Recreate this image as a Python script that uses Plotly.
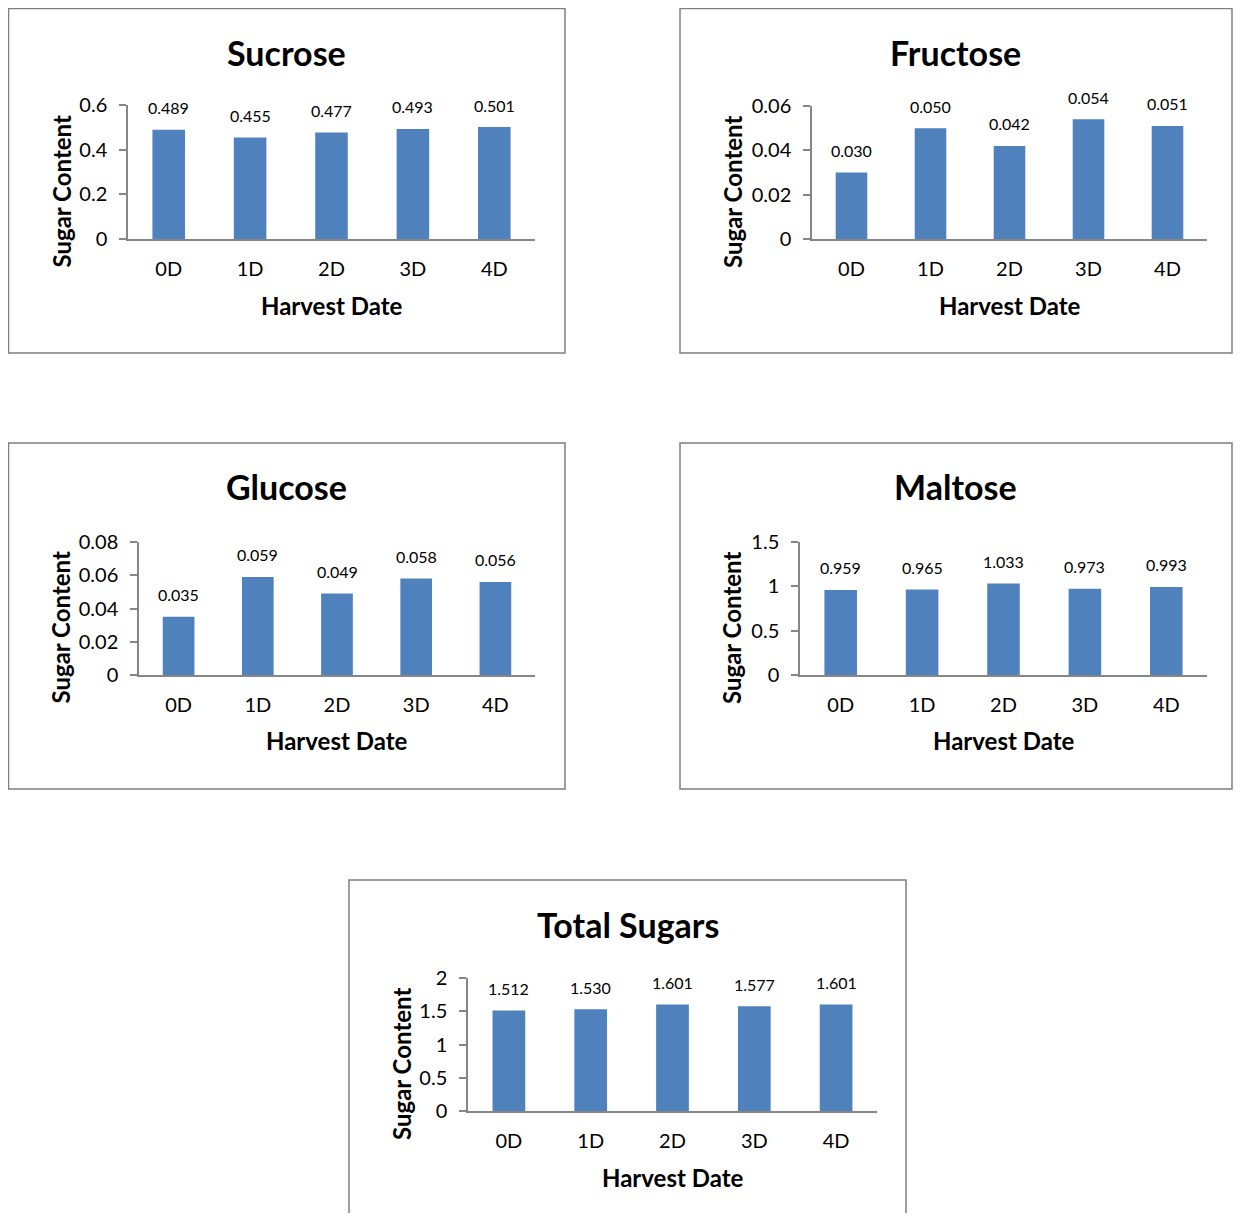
import plotly.graph_objects as go

W, H = 1225, 1205
OFFX, OFFY = 8, 8  # page offset of the plot div inside the browser (body margin)

categories = ["0D", "1D", "2D", "3D", "4D"]

sucrose = [0.489, 0.455, 0.477, 0.493, 0.501]
fructose = [0.030, 0.050, 0.042, 0.054, 0.051]
glucose = [0.035, 0.059, 0.049, 0.058, 0.056]
maltose = [0.959, 0.965, 1.033, 0.973, 0.993]
total = [1.512, 1.530, 1.601, 1.577, 1.601]

titles = ["Sucrose", "Fructose", "Glucose", "Maltose", "Total Sugars"]
series = [sucrose, fructose, glucose, maltose, total]
y_ranges = [[0, 0.6], [0, 0.06], [0, 0.08], [0, 1.5], [0, 2]]
y_dtick = [0.2, 0.02, 0.02, 0.5, 0.5]

# layout in reference pixels: (plot x0, x1, y_top, y_bottom), (box x0, x1, y0, y1)
plots = [
    (128, 535, 105, 239),
    (812, 1207, 106, 239),
    (139, 535, 542, 675),
    (800, 1207, 542, 675),
    (468, 877, 978, 1111),
]
boxes = [
    (8.5, 565, 8.5, 353),
    (680, 1232, 8.5, 353),
    (8.5, 565, 443, 789),
    (680, 1232, 443, 789),
    (349, 906, 880, None),
]

BAR = "#4F81BD"
AX = "#868686"
FONT = "Lato, 'Open Sans', sans-serif"

fig = go.Figure()
shapes = []
annotations = []

def px(x):
    return (x - OFFX) / W

def py(y):
    return 1 - (y - OFFY) / H

for i in range(5):
    xa = "x" if i == 0 else f"x{i+1}"
    ya = "y" if i == 0 else f"y{i+1}"
    fig.add_trace(go.Bar(
        x=categories, y=series[i], xaxis=xa, yaxis=ya,
        marker=dict(color=BAR, line=dict(width=0)),
        width=0.4, showlegend=False, hoverinfo="x+y",
    ))
    x0, x1, yt, yb = plots[i]
    xkey = "xaxis" if i == 0 else f"xaxis{i+1}"
    ykey = "yaxis" if i == 0 else f"yaxis{i+1}"
    fig.update_layout(**{
        xkey: dict(
            domain=[px(x0), px(x1)], anchor=ya, showgrid=False, zeroline=False,
            showline=True, linecolor=AX, linewidth=1.5, ticks="",
            tickfont=dict(family=FONT, size=20, color="#000"),
            ticklabelstandoff=11, fixedrange=True, automargin=False,
        ),
        ykey: dict(
            domain=[py(yb), py(yt)], anchor=xa, range=y_ranges[i], dtick=y_dtick[i],
            tick0=0, showgrid=False, zeroline=False, showline=True, linecolor=AX,
            linewidth=1.5, ticks="outside", ticklen=7, tickcolor=AX, tickwidth=1.5,
            ticklabelstandoff=8, automargin=False,
            tickfont=dict(family=FONT, size=20, color="#000"), fixedrange=True,
        ),
    })
    bx0, bx1, by0, by1 = boxes[i]
    if by1 is None:
        path = (f"M {px(bx0)} 0 L {px(bx0)} {py(by0)} "
                f"L {px(bx1)} {py(by0)} L {px(bx1)} 0")
        shapes.append(dict(type="path", xref="paper", yref="paper", path=path,
                           line=dict(color="#7f7f7f", width=1.5)))
    else:
        shapes.append(dict(type="rect", xref="paper", yref="paper",
                           x0=px(bx0), x1=px(bx1), y0=py(by1), y1=py(by0),
                           line=dict(color="#7f7f7f", width=1.5),
                           fillcolor="rgba(0,0,0,0)"))
    # chart title
    annotations.append(dict(text=f"<b>{titles[i]}</b>", xref="paper", yref="paper",
                            x=px((bx0 + bx1) / 2), y=py(by0 + 44), showarrow=False,
                            xanchor="center", yanchor="middle",
                            font=dict(family=FONT, size=34, color="#000")))
    # x-axis title
    annotations.append(dict(text="<b>Harvest Date</b>", xref="paper", yref="paper",
                            x=px((x0 + x1) / 2), y=py(yb + 66), showarrow=False,
                            xanchor="center", yanchor="middle",
                            font=dict(family=FONT, size=24, color="#000")))
    # y-axis title
    annotations.append(dict(text="<b>Sugar Content</b>", xref="paper", yref="paper",
                            x=px(bx0 + 52), y=py(yb - 47), showarrow=False, textangle=-90,
                            xanchor="center", yanchor="middle",
                            font=dict(family=FONT, size=24, color="#000")))
    # data labels
    for c, v in zip(categories, series[i]):
        annotations.append(dict(text=f"{v:.3f}", xref=xa, yref=ya, x=c, y=v,
                                yshift=22, showarrow=False, xanchor="center",
                                yanchor="middle",
                                font=dict(family=FONT, size=16, color="#000")))

fig.update_layout(
    width=W, height=H,
    margin=dict(l=0, r=0, t=0, b=0, pad=0, autoexpand=False),
    paper_bgcolor="white", plot_bgcolor="white",
    shapes=shapes, annotations=annotations, bargap=0.6,
)

fig.write_html("out.html")
